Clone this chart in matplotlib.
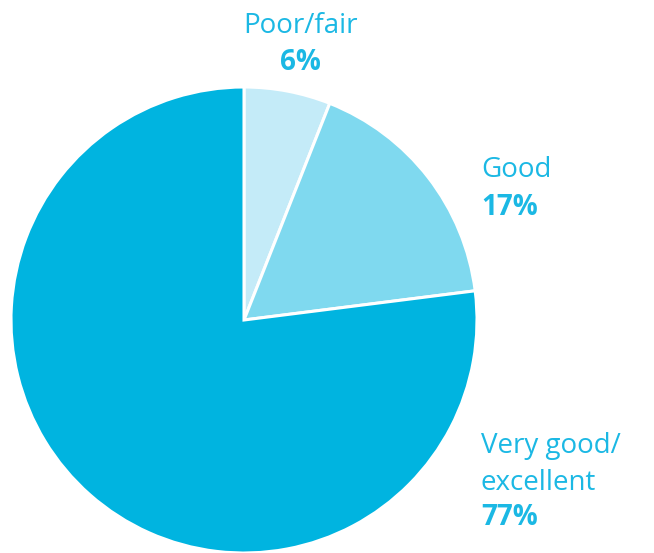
import matplotlib.pyplot as plt

labels = ["Poor/fair", "Good", "Very good/\nexcellent"]
shares = [6, 17, 77]
colors = ["#c4ebf8", "#7fd9ef", "#00b4e0"]
text_color = "#1bb8e4"

W, H = 654, 553
fig = plt.figure(figsize=(W / 100, H / 100), dpi=100)
ax = fig.add_axes([0, 0, 1, 1])

# pie drawn in pixel-like data coordinates, going clockwise from the top
ax.pie(shares, colors=colors, startangle=90, counterclock=False,
       center=(244, H - 320), radius=233,
       wedgeprops=dict(edgecolor="white", linewidth=2.2))
ax.set_xlim(0, W)
ax.set_ylim(0, H)
ax.set_aspect("equal")
ax.axis("off")

font = "Open Sans"
size = 20

# Poor/fair label above the pie
ax.text(300, H - 33, labels[0], ha="center", va="baseline", fontsize=size,
        color=text_color, family=font, fontweight="normal")
ax.text(300, H - 70, f"{shares[0]}%", ha="center", va="baseline", fontsize=size,
        color=text_color, family=font, fontweight="bold")

# Good label on the right
ax.text(481, H - 177, labels[1], ha="left", va="baseline", fontsize=size,
        color=text_color, family=font, fontweight="normal")
ax.text(481, H - 215, f"{shares[1]}%", ha="left", va="baseline", fontsize=size,
        color=text_color, family=font, fontweight="bold")

# Very good/excellent label, lower right
for i, line in enumerate(labels[2].split("\n")):
    ax.text(481, H - (453 + 37 * i), line, ha="left", va="baseline", fontsize=size,
            color=text_color, family=font, fontweight="normal")
ax.text(481, H - 525, f"{shares[2]}%", ha="left", va="baseline", fontsize=size,
        color=text_color, family=font, fontweight="bold")

fig.savefig("out.png", dpi=100)
